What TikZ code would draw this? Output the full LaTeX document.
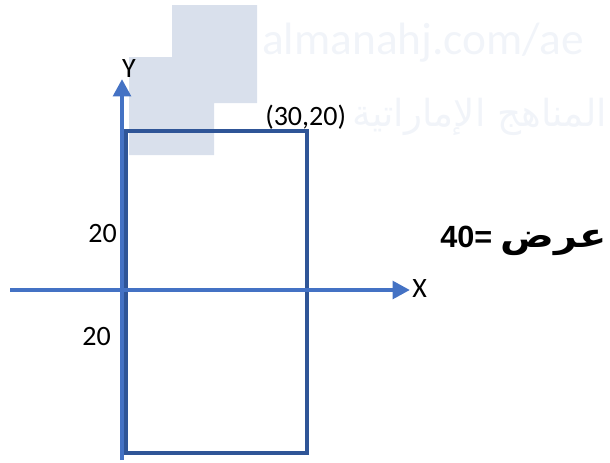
\documentclass[tikz,border=0pt]{standalone}
\usepackage{fontspec}
\setmainfont{Carlito}
\newfontfamily\arabicfont[Script=Arabic]{DejaVu Sans}
\newfontfamily\arabicwide[Script=Arabic,FakeStretch=1.2]{DejaVu Sans}
\newfontfamily\arialfont{Liberation Sans}
\TeXXeTstate=1
\usetikzlibrary{arrows.meta}
\definecolor{axisblue}{HTML}{4472C4}
\definecolor{boxblue}{HTML}{2F5597}
\definecolor{markgray}{HTML}{D9E0EC}
\definecolor{faintblue}{HTML}{F1F4F9}
\tikzset{
  axisline/.style={draw=axisblue, line width=3.6pt, -{Triangle[length=13pt,width=13pt]}},
  boxline/.style={draw=boxblue, line width=3.6pt},
  lbl/.style={font=\fontsize{21}{24}\selectfont, inner sep=0pt}
}
\begin{document}
\begin{tikzpicture}[x=0.75pt,y=-0.75pt]
\useasboundingbox (0,0) rectangle (610,462);
% watermark
\fill[markgray] (172,5) -- (257,5) -- (257,103) -- (214,103) -- (214,155)
  -- (129,155) -- (129,57) -- (172,57) -- cycle;
\node[text=faintblue, font=\fontsize{34}{40}\selectfont, anchor=west, inner sep=0pt] (wmlatin) at (262,43) {almanahj.com/ae};
\node[text=faintblue, font=\arabicfont\fontsize{28}{34}\selectfont, anchor=west, inner sep=0pt] (wmarabic) at (352,117) {\beginR المناهج الإماراتية\endR};
% rectangle
\coordinate (ra) at (126,131);
\coordinate (rb) at (307,453);
\draw[boxline] (ra) rectangle (rb);
% axes
\coordinate (xs) at (10,290);
\coordinate (xe) at (410,290);
\coordinate (ys) at (122,460);
\coordinate (ye) at (122,79);
\draw[axisline] (xs) -- (xe);
\draw[axisline] (ys) -- (ye);
\node[lbl, anchor=west] (xlab) at (412,289) {X};
\node[lbl] (ylab) at (129,69) {Y};
\node[lbl, anchor=east] (up) at (117,234) {20};
\node[lbl, anchor=east] (down) at (111,336) {20};
\node[lbl, anchor=west] (corner) at (265,117) {(30,20)};
\node[anchor=base west, inner sep=0pt, font=\fontsize{23}{28}\selectfont\bfseries] (width) at (440,247)
  {{\arialfont 40= }{\arabicwide\fontsize{25}{30}\selectfont\beginR عرض\endR}};
\end{tikzpicture}
\end{document}
